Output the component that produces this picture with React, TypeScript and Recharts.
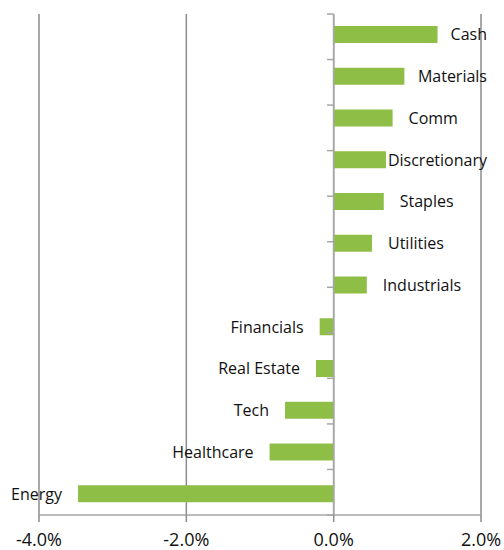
import { BarChart, Bar, XAxis, YAxis, CartesianGrid, ReferenceLine, LabelList } from "recharts";

// Sector relative returns (%), top to bottom as drawn
const sectors = [
  "Cash",
  "Materials",
  "Comm",
  "Discretionary",
  "Staples",
  "Utilities",
  "Industrials",
  "Financials",
  "Real Estate",
  "Tech",
  "Healthcare",
  "Energy",
];
const returns = [1.41, 0.96, 0.8, 0.71, 0.68, 0.52, 0.45, -0.19, -0.24, -0.66, -0.87, -3.47];
const xTicks = [-4, -2, 0, 2];
const slotEdges = [0, 1, 2, 3, 4, 5, 6, 7, 8, 9, 10, 11, 12];

const colors = {
  bar: "#8FBE46",
  grid: "#8C8C8C",
  axis: "#A6A6A6",
  text: "#111111",
};

const labelFont = "16px 'Open Sans'";

const data = sectors.map((name, i) => ({ name, value: returns[i] }));

let measureCtx: CanvasRenderingContext2D | null = null;
const textWidth = (s: string) => {
  if (!measureCtx) measureCtx = document.createElement("canvas").getContext("2d");
  if (!measureCtx) return s.length * 8;
  measureCtx.font = labelFont;
  return measureCtx.measureText(s).width;
};

// name label sits beside the bar end, pulled back in if it would run off the right edge
const SectorLabel = (props: any) => {
  const { x, y, width, height, index } = props;
  const name = sectors[index];
  const left = Math.min(x, x + width);
  const right = Math.max(x, x + width);
  const cy = y + height / 2;
  const gap = 16;
  if (returns[index] >= 0) {
    const w = textWidth(name);
    const tx = Math.min(right + gap, 487 - w);
    return (
      <text x={tx} y={cy} dy="0.36em" textAnchor="start" fill={colors.text} style={{ font: labelFont }}>
        {name}
      </text>
    );
  }
  return (
    <text x={left - gap} y={cy} dy="0.36em" textAnchor="end" fill={colors.text} style={{ font: labelFont }}>
      {name}
    </text>
  );
};

const App = () => {
  return (
    <div style={{ position: "absolute", left: 0, top: 0, background: "#fff" }}>
      <BarChart
        width={504}
        height={550}
        data={data}
        layout="vertical"
        margin={{ top: 14, right: 23, bottom: 0, left: 39 }}
      >
        <CartesianGrid horizontal={false} stroke={colors.grid} strokeWidth={1.5} />
        <XAxis
          type="number"
          domain={[-4, 2]}
          ticks={xTicks}
          allowDataOverflow
          height={35}
          tickSize={7}
          tickMargin={11}
          axisLine={{ stroke: colors.axis, strokeWidth: 1.5 }}
          tickLine={{ stroke: colors.grid, strokeWidth: 1.5 }}
          tick={{ fill: colors.text, fontSize: 18, fontFamily: "Open Sans" }}
          tickFormatter={(v: number) => `${v.toFixed(1)}%`}
        />
        <YAxis type="category" dataKey="name" hide />
        <YAxis yAxisId="slots" type="number" domain={[0, 12]} reversed hide />
        <ReferenceLine x={0} stroke={colors.axis} strokeWidth={1.5} />
        {slotEdges.map((e) => (
          <ReferenceLine
            key={e}
            yAxisId="slots"
            segment={[
              { x: -0.09, y: e },
              { x: 0, y: e },
            ]}
            stroke={colors.axis}
            strokeWidth={1.5}
            ifOverflow="visible"
          />
        ))}
        <Bar dataKey="value" fill={colors.bar} barSize={17} isAnimationActive={false}>
          <LabelList dataKey="value" content={SectorLabel} />
        </Bar>
      </BarChart>
    </div>
  );
};

export default App;
